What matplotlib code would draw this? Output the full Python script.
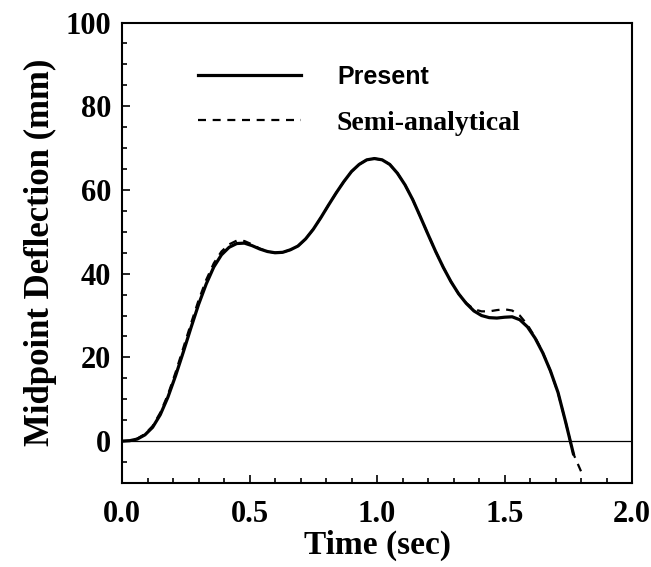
import matplotlib
matplotlib.use('Agg')
import matplotlib.pyplot as plt
from matplotlib.ticker import MultipleLocator

# time (sec) and midpoint deflection (mm)
time_present = [0.00, 0.03, 0.06, 0.09, 0.12, 0.15, 0.18, 0.21, 0.24, 0.27,
                0.30, 0.33, 0.36, 0.39, 0.42, 0.45, 0.48, 0.51, 0.54, 0.57,
                0.60, 0.63, 0.66, 0.69, 0.72, 0.75, 0.78, 0.81, 0.84, 0.87,
                0.90, 0.93, 0.96, 0.99, 1.02, 1.05, 1.08, 1.11, 1.14, 1.17,
                1.20, 1.23, 1.26, 1.29, 1.32, 1.35, 1.38, 1.41, 1.44, 1.47,
                1.50, 1.53, 1.56, 1.59, 1.62, 1.65, 1.68, 1.71, 1.74, 1.77]
defl_present = [0.0, 0.1, 0.5, 1.5, 3.3, 6.3, 10.5, 15.6, 21.2, 27.0,
                32.6, 37.5, 41.6, 44.5, 46.3, 47.2, 47.3, 46.7, 45.9, 45.3,
                45.0, 45.1, 45.7, 46.6, 48.3, 50.6, 53.4, 56.4, 59.3, 62.0,
                64.4, 66.1, 67.2, 67.5, 67.2, 66.1, 64.0, 61.2, 57.7, 53.6,
                49.4, 45.3, 41.5, 38.1, 35.2, 32.9, 31.1, 30.0, 29.5, 29.4,
                29.6, 29.7, 29.0, 27.3, 24.6, 21.1, 16.8, 11.6, 4.5, -3.0]

time_semi = [0.00, 0.03, 0.06, 0.09, 0.12, 0.15, 0.18, 0.21, 0.24, 0.27,
             0.30, 0.33, 0.36, 0.39, 0.42, 0.45, 0.48, 0.51, 0.54, 0.57,
             0.60, 0.63, 0.66, 0.69, 0.72, 0.75, 0.78, 0.81, 0.84, 0.87,
             0.90, 0.93, 0.96, 0.99, 1.02, 1.05, 1.08, 1.11, 1.14, 1.17,
             1.20, 1.23, 1.26, 1.29, 1.32, 1.35, 1.38, 1.41, 1.44, 1.47,
             1.50, 1.53, 1.56, 1.59, 1.62, 1.65, 1.68, 1.71, 1.74, 1.77, 1.80]
defl_semi = [0.0, 0.1, 0.6, 1.7, 3.6, 6.8, 11.1, 16.4, 22.2, 28.0,
             33.6, 38.5, 42.5, 45.3, 47.0, 47.9, 47.8, 47.0, 46.0, 45.3,
             45.0, 45.1, 45.7, 46.6, 48.3, 50.6, 53.4, 56.4, 59.3, 62.0,
             64.4, 66.1, 67.2, 67.5, 67.2, 66.1, 64.0, 61.2, 57.7, 53.6,
             49.4, 45.3, 41.5, 38.1, 35.2, 33.0, 31.5, 31.0, 31.0, 31.3,
             31.5, 31.2, 30.0, 27.8, 24.8, 21.2, 16.8, 11.5, 4.5, -3.0, -7.2]

x_ticks = [0.0, 0.5, 1.0, 1.5, 2.0]
y_ticks = [0, 20, 40, 60, 80, 100]

serif = 'Liberation Serif'

fig = plt.figure(figsize=(6.51, 5.67), dpi=100)
ax = fig.add_axes([122 / 651, 84 / 567, 510 / 651, 460.5 / 567])

ax.axhline(0, color='black', lw=0.9)
ax.plot(time_present, defl_present, color='black', lw=2.3, label='Present')
ax.plot(time_semi, defl_semi, color='black', lw=1.6, dashes=(3.6, 3.0),
        label='Semi-analytical')

ax.set_xlim(0, 2.0)
ax.set_ylim(-10, 100)
ax.set_xticks(x_ticks)
ax.set_xticklabels([f'{v:.1f}' for v in x_ticks])
ax.set_yticks(y_ticks)
ax.xaxis.set_minor_locator(MultipleLocator(0.1))
ax.yaxis.set_minor_locator(MultipleLocator(5))
ax.tick_params(which='both', direction='in', top=False, right=False, width=1.2)
ax.tick_params(which='major', length=6)
ax.tick_params(which='minor', length=3.5)
ax.tick_params(axis='x', pad=12)
ax.tick_params(axis='y', pad=8)
for lab in ax.get_xticklabels() + ax.get_yticklabels():
    lab.set_fontfamily(serif)
    lab.set_fontweight('bold')
    lab.set_fontsize(22)
for sp in ax.spines.values():
    sp.set_linewidth(1.5)

ax.set_xlabel('Time (sec)', family=serif, weight='bold', fontsize=24, labelpad=1)
ax.set_ylabel('Midpoint Deflection (mm)', family=serif, weight='bold',
              fontsize=25, labelpad=6)

leg = ax.legend(loc='upper left', bbox_to_anchor=(0.1, 0.962), frameon=False,
                handlelength=3.7, handletextpad=1.3, labelspacing=0.75,
                prop={'family': serif, 'weight': 'bold', 'size': 20})
txt = leg.get_texts()
txt[0].set_fontfamily('Liberation Sans')
txt[0].set_fontsize(18)

fig.savefig('out.png', dpi=100)
